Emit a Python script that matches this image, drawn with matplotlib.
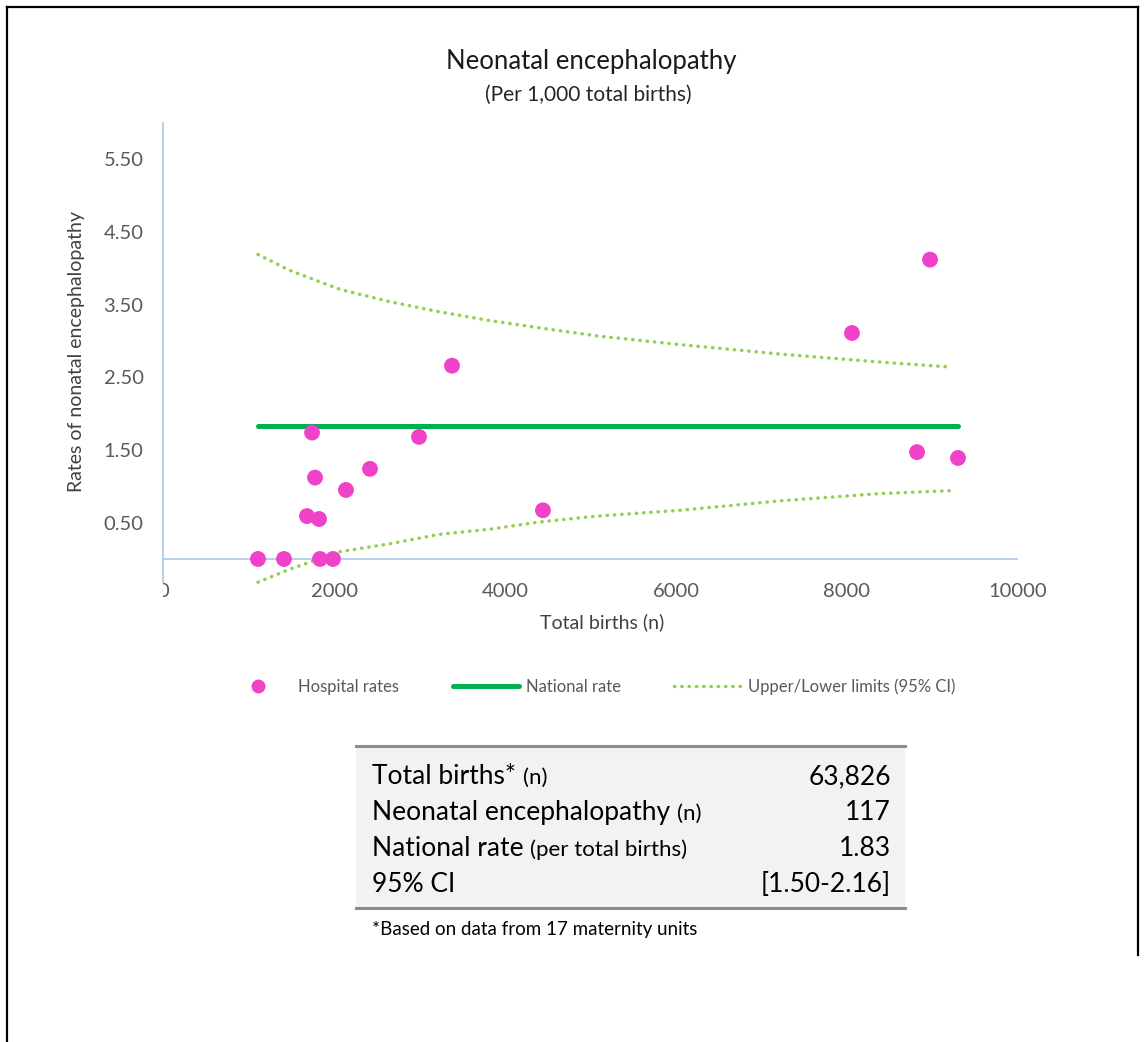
import matplotlib.pyplot as plt
from matplotlib.lines import Line2D
from matplotlib.transforms import Bbox, TransformedBbox

plt.rcParams['font.family'] = ['Lato', 'DejaVu Sans']

# hospital data
births = [1111, 1415, 1836, 1988, 1684, 1825, 1778, 1743, 2140,
          2421, 2994, 3380, 4444, 8058, 8971, 8819, 9298]
rates = [0, 0, 0, 0, 0.59, 0.55, 1.12, 1.74, 0.95,
         1.24, 1.68, 2.66, 0.67, 3.11, 4.12, 1.47, 1.39]
national_rate = 1.83

# 95% CI funnel limits, read at several points along the curves
ci_births = [1111, 1485, 2070, 2655, 3240, 3825, 4409, 5076, 6047, 7216, 8386, 9228]
ci_upper = [4.19, 3.97, 3.71, 3.54, 3.40, 3.28, 3.18, 3.07, 2.95, 2.82, 2.71, 2.64]
ci_lower = [-0.32, -0.14, 0.10, 0.21, 0.34, 0.41, 0.51, 0.59, 0.67, 0.80, 0.90, 0.94]

x_ticks = [0, 2000, 4000, 6000, 8000, 10000]
y_ticks = [0.5, 1.5, 2.5, 3.5, 4.5, 5.5]

table_main = ['Total births*', 'Neonatal encephalopathy', 'National rate', '95% CI']
table_sub = ['(n)', '(n)', '(per total births)', '']
table_values = ['63,826', '117', '1.83', '[1.50-2.16]']

PINK = '#F042C8'
GREEN = '#00B050'
LIGHT_GREEN = '#92D050'
AXIS_BLUE = '#A9C8E6'
GREY_TXT = '#595959'

W, H = 1146, 1042
fig = plt.figure(figsize=(W / 100, H / 100), dpi=100)

ax = fig.add_axes([163 / W, 1 - 582 / H, 855 / W, 459 / H])
ax.set_xlim(0, 10000)
ax.set_ylim(-0.317, 6.0)

ax.scatter(births, rates, s=130, color=PINK, edgecolors='none', zorder=4,
           clip_on=False)
ax.plot([min(births), max(births)], [national_rate, national_rate], color=GREEN,
        lw=3.6, solid_capstyle='round', zorder=3)
for lim in (ci_upper, ci_lower):
    ax.plot(ci_births, lim, color=LIGHT_GREEN, lw=2.5, linestyle=(0, (0.1, 2.0)),
            dash_capstyle='round', zorder=2, clip_on=False)

ax.axhline(0, color=AXIS_BLUE, lw=1.2, zorder=1)
for side in ('top', 'right', 'bottom'):
    ax.spines[side].set_visible(False)
ax.spines['left'].set_color(AXIS_BLUE)
ax.spines['left'].set_linewidth(1.2)

ax.set_xticks(x_ticks)
ax.set_xticklabels([str(v) for v in x_ticks])
ax.set_yticks(y_ticks)
ax.set_yticklabels(['%.2f' % v for v in y_ticks])
ax.tick_params(axis='both', length=0, labelsize=14.5, labelcolor=GREY_TXT)
ax.tick_params(axis='x', pad=1)
ax.tick_params(axis='y', pad=14)

# the "0" label is cut by the y axis in the original
clip = TransformedBbox(Bbox([[0, -1], [1, 1]]), ax.transAxes)
first = ax.xaxis.get_major_ticks()[0].label1
first.set_clip_box(clip)
first.set_clip_on(True)

ax.set_xlabel('Total births (n)', fontsize=14, color='#404040')
ax.xaxis.set_label_coords(0.514, -0.068)
ax.set_ylabel('Rates of nonatal encephalopathy', fontsize=14, color='#404040')
ax.yaxis.set_label_coords(-0.091, 0.503)

fig.text(591 / W, 1 - 62 / H, 'Neonatal encephalopathy', ha='center', va='center',
         fontsize=18.5, color='#1a1a1a')
fig.text(588 / W, 1 - 95 / H, '(Per 1,000 total births)', ha='center', va='center',
         fontsize=15, color='#262626')

handles = [
    Line2D([0], [0], marker='o', color='none', markerfacecolor=PINK,
           markeredgecolor='none', markersize=10, label='Hospital rates'),
    Line2D([0], [0], color=GREEN, lw=3.6, solid_capstyle='round', label='National rate'),
    Line2D([0], [0], color=LIGHT_GREEN, lw=2.5, linestyle=(0, (0.1, 2.0)),
           dash_capstyle='round', label='Upper/Lower limits (95% CI)'),
]
leg = fig.legend(handles=handles, loc='center', bbox_to_anchor=(590 / W, 1 - 687 / H),
                 ncol=3, frameon=False, fontsize=12, handlelength=4.0,
                 handletextpad=0.4, columnspacing=3.2)
for t in leg.get_texts():
    t.set_color(GREY_TXT)

# summary table
tab = fig.add_axes([356 / W, 1 - 908 / H, 549 / W, 162 / H])
tab.set_facecolor('#F2F2F2')
tab.set_xticks([])
tab.set_yticks([])
for side in ('left', 'right'):
    tab.spines[side].set_visible(False)
for side in ('top', 'bottom'):
    tab.spines[side].set_color('#8C8C8C')
    tab.spines[side].set_linewidth(2.2)

renderer = fig.canvas.get_renderer()
row_y = [0.765, 0.543, 0.321, 0.099]
for y, main, sub, val in zip(row_y, table_main, table_sub, table_values):
    t = tab.text(0.029, y, main, fontsize=19, va='baseline', color='black')
    if sub:
        bb = t.get_window_extent(renderer)
        x_end = tab.transAxes.inverted().transform((bb.x1, bb.y0))[0]
        tab.text(x_end + 0.012, y, sub, fontsize=16, va='baseline', color='black')
    tab.text(0.974, y, val, fontsize=19, va='baseline', ha='right', color='black')

fig.text(372 / W, 1 - 930 / H, '*Based on data from 17 maternity units',
         fontsize=13.5, va='center', color='black')

# outer frame
frame_kw = dict(color='black', lw=1.6, transform=None)
fig.add_artist(Line2D([7, 1138], [H - 7, H - 7], **frame_kw))
fig.add_artist(Line2D([7, 7], [H - 7, 0], **frame_kw))
fig.add_artist(Line2D([1138, 1138], [H - 7, H - 955], **frame_kw))

fig.savefig('out.png', dpi=100)
